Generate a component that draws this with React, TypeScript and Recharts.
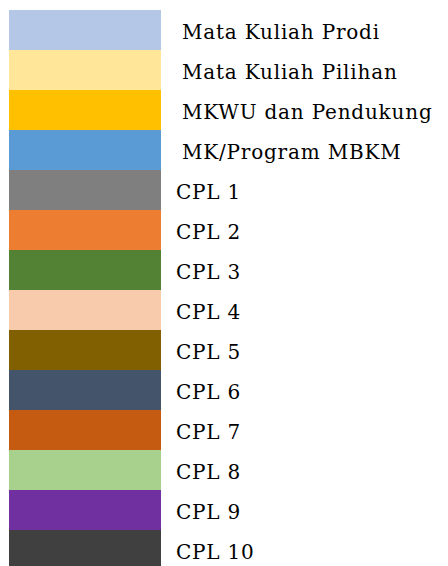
import { BarChart, Bar, XAxis, YAxis, Cell, LabelList } from 'recharts';

const categories = [
  'Mata Kuliah Prodi',
  'Mata Kuliah Pilihan',
  'MKWU dan Pendukung',
  'MK/Program MBKM',
  'CPL 1',
  'CPL 2',
  'CPL 3',
  'CPL 4',
  'CPL 5',
  'CPL 6',
  'CPL 7',
  'CPL 8',
  'CPL 9',
  'CPL 10',
];

const values = [1, 1, 1, 1, 1, 1, 1, 1, 1, 1, 1, 1, 1, 1];

const colors = [
  '#B4C7E7',
  '#FFE699',
  '#FFC000',
  '#5B9BD5',
  '#7F7F7F',
  '#ED7D31',
  '#548235',
  '#F8CBAD',
  '#806000',
  '#44546A',
  '#C55A11',
  '#A9D18E',
  '#7030A0',
  '#404040',
];

const data = categories.map((name, i) => ({ name, value: values[i] }));

// eslint-disable-next-line @typescript-eslint/no-explicit-any
function RowLabel(props: any) {
  const { x, y, width, height, value, index } = props;
  // the first four labels sit a little further right in the original
  const dx = index < 4 ? 21 : 15;
  return (
    <text
      x={Number(x) + Number(width) + dx}
      y={Number(y) + Number(height) / 2 + 8.5}
      fill="#000"
      fontSize={20}
      letterSpacing={0.8}
      fontFamily="'DejaVu Serif', serif"
    >
      {value}
    </text>
  );
}

export default function App() {
  return (
    <div style={{ width: 440, height: 558, overflow: 'hidden' }}>
      <BarChart
        width={440}
        height={562}
        data={data}
        layout="vertical"
        barCategoryGap={0}
        margin={{ top: 2, right: 287, bottom: 0, left: 1 }}
      >
        <XAxis type="number" domain={[0, 1]} hide />
        <YAxis type="category" dataKey="name" hide />
        <Bar dataKey="value" isAnimationActive={false}>
          {data.map((d, i) => (
            <Cell key={d.name} fill={colors[i]} />
          ))}
          <LabelList dataKey="name" content={RowLabel} />
        </Bar>
      </BarChart>
    </div>
  );
}
